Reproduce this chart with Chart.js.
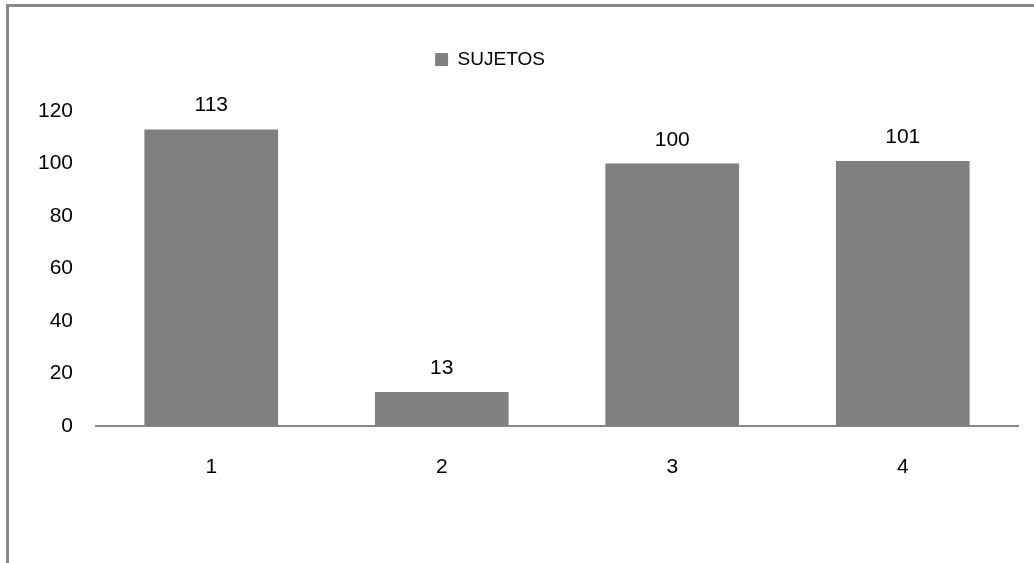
<!DOCTYPE html>
<html>
<head>
<meta charset="utf-8">
<script src="https://cdn.jsdelivr.net/npm/chart.js@4"></script>
<style>
  html, body { margin: 0; padding: 0; background: #ffffff; overflow: hidden; }
  #wrap { position: relative; width: 1034px; height: 563px; }
  #frame { position: absolute; left: 6px; top: 4px; width: 1200px; height: 800px; border-top: 3px solid #878787; border-left: 3px solid #878787; box-sizing: border-box; }
  #c { position: absolute; left: 0; top: 0; }
</style>
</head>
<body>
<div id="wrap">
  <div id="frame"></div>
  <canvas id="c" width="1034" height="563"></canvas>
</div>
<script>
const categories = ['1', '2', '3', '4'];
const seriesName = 'SUJETOS';
const sujetos = [113, 13, 100, 101];
const yTicks = [0, 20, 40, 60, 80, 100, 120];

const FONT = "'Liberation Sans', Arial, sans-serif";

const valueLabels = {
  id: 'valueLabels',
  afterDatasetsDraw(chart) {
    const ctx = chart.ctx;
    const meta = chart.getDatasetMeta(0);
    ctx.save();
    ctx.font = '21px ' + FONT;
    ctx.fillStyle = '#000000';
    ctx.textAlign = 'center';
    ctx.textBaseline = 'alphabetic';
    meta.data.forEach((bar, i) => {
      ctx.fillText(String(chart.data.datasets[0].data[i]), bar.x, bar.y - 18);
    });
    ctx.restore();
  }
};

const legendShift = {
  id: 'legendShift',
  afterLayout(chart) {
    const lg = chart.legend;
    if (lg) { lg.left -= 19; lg.right -= 19; }
  }
};

new Chart(document.getElementById('c'), {
  type: 'bar',
  data: {
    labels: categories,
    datasets: [{
      label: seriesName,
      data: sujetos,
      backgroundColor: '#808080',
      borderWidth: 0,
      categoryPercentage: 1.0,
      barPercentage: 0.58
    }]
  },
  options: {
    responsive: false,
    animation: false,
    devicePixelRatio: 1,
    layout: { padding: { left: 0, right: 16, top: 40, bottom: 0 } },
    plugins: {
      legend: {
        display: true,
        position: 'top',
        labels: {
          boxWidth: 13,
          boxHeight: 13,
          padding: 10,
          color: '#000000',
          font: { family: FONT, size: 19 }
        }
      },
      title: {
        display: true,
        text: '',
        weight: 500,
        font: { size: 10 },
        padding: { top: 20, bottom: 0 }
      },
      tooltip: { enabled: false }
    },
    scales: {
      x: {
        grid: { display: false },
        border: { display: true, color: '#878787', width: 2 },
        ticks: { color: '#000000', padding: 21, font: { family: FONT, size: 21 } },
        afterFit(scale) { scale.height = 563 - 426; }
      },
      y: {
        min: 0,
        max: 120,
        grid: { display: false },
        border: { display: false },
        afterBuildTicks(scale) { scale.ticks = yTicks.map(v => ({ value: v })); },
        ticks: { color: '#000000', padding: 15, font: { family: FONT, size: 21 } },
        afterFit(scale) { scale.width = 96; }
      }
    }
  },
  plugins: [valueLabels, legendShift]
});
</script>
</body>
</html>
